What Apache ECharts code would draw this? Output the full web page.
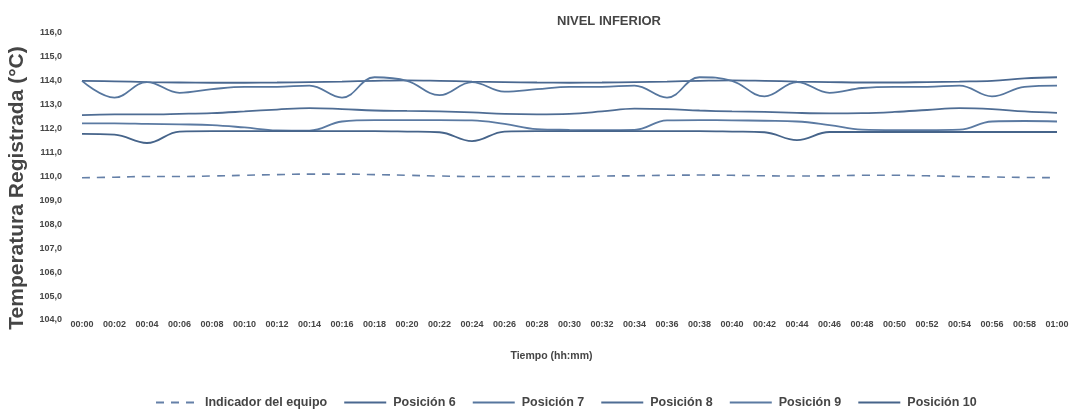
<!DOCTYPE html>
<html>
<head>
<meta charset="utf-8">
<script src="https://cdn.jsdelivr.net/npm/echarts@6/dist/echarts.min.js"></script>
<style>
html,body{margin:0;padding:0;background:#ffffff;}
#chart{width:1074px;height:410px;}
</style>
</head>
<body>
<div id="chart"></div>
<script>
const timeLabels = ["00:00","00:02","00:04","00:06","00:08","00:10","00:12","00:14","00:16","00:18","00:20","00:22","00:24","00:26","00:28","00:30","00:32","00:34","00:36","00:38","00:40","00:42","00:44","00:46","00:48","00:50","00:52","00:54","00:56","00:58","01:00"];

const seriesNames = ["Indicador del equipo","Posición 6","Posición 7","Posición 8","Posición 9","Posición 10"];

const indicador = [109.95,109.97,110.0,110.0,110.02,110.05,110.08,110.1,110.1,110.08,110.05,110.02,110.0,110.0,110.0,110.0,110.02,110.03,110.05,110.06,110.05,110.03,110.02,110.03,110.05,110.05,110.03,110.0,109.98,109.96,109.95];

const posicion6 = [114.0,113.98,113.95,113.93,113.92,113.92,113.93,113.95,113.97,114.0,114.02,114.0,113.97,113.95,113.93,113.92,113.93,113.95,113.97,114.0,114.02,114.0,113.97,113.95,113.93,113.93,113.95,113.97,114.0,114.1,114.15];

const posicion7 = [114.0,113.3,113.95,113.5,113.65,113.75,113.75,113.8,113.3,114.15,114.0,113.4,113.95,113.55,113.65,113.75,113.75,113.8,113.3,114.15,114.0,113.35,113.95,113.5,113.7,113.75,113.75,113.8,113.35,113.75,113.8];

const posicion8 = [112.57,112.6,112.6,112.62,112.65,112.72,112.8,112.86,112.82,112.76,112.74,112.72,112.68,112.62,112.6,112.62,112.72,112.84,112.82,112.76,112.72,112.7,112.66,112.64,112.65,112.7,112.78,112.86,112.82,112.72,112.66];

const posicion9 = [112.22,112.22,112.2,112.18,112.15,112.05,111.93,111.92,112.3,112.36,112.36,112.36,112.35,112.2,111.98,111.95,111.94,111.95,112.35,112.36,112.35,112.33,112.3,112.15,111.96,111.94,111.94,111.96,112.3,112.32,112.3];

const posicion10 = [111.78,111.75,111.4,111.88,111.9,111.9,111.9,111.9,111.9,111.9,111.88,111.85,111.48,111.88,111.9,111.9,111.9,111.9,111.9,111.9,111.88,111.85,111.52,111.86,111.86,111.86,111.86,111.86,111.86,111.86,111.86];

const colors = ["#6580a8","#4a6890","#56769e","#4f6d94","#5b7aa2","#46648a"];
const dataSets = [indicador,posicion6,posicion7,posicion8,posicion9,posicion10];

const FONT = "'Liberation Sans', Arial, sans-serif";
const TXT = "#454545";

const chart = echarts.init(document.getElementById('chart'), null, {renderer:'canvas'});

const series = dataSets.map((d, i) => ({
  name: seriesNames[i],
  type: 'line',
  data: d,
  smooth: 0.4,
  symbol: 'none',
  showSymbol: false,
  lineStyle: {
    color: colors[i],
    width: i === 0 ? 1.6 : 1.8,
    type: i === 0 ? [8, 7] : 'solid'
  },
  itemStyle: { color: colors[i] },
  emphasis: { disabled: true },
  z: i === 0 ? 2 : 3
}));

chart.setOption({
  animation: false,
  backgroundColor: '#ffffff',
  title: {
    text: 'NIVEL INFERIOR',
    left: 552,
    top: 10,
    textStyle: { fontFamily: FONT, fontWeight: 'bold', fontSize: 13, color: TXT }
  },
  grid: { left: 82, right: 17, top: 33, bottom: 90, containLabel: false },
  legend: {
    data: seriesNames,
    left: 150,
    top: 391,
    itemWidth: 42,
    itemHeight: 10,
    itemGap: 16,
    itemStyle: { opacity: 0 },
    textStyle: { fontFamily: FONT, fontWeight: 'bold', fontSize: 12.5, color: TXT, padding: [0,0,0,2] }
  },
  xAxis: {
    type: 'category',
    data: timeLabels,
    boundaryGap: false,
    name: 'Tiempo (hh:mm)',
    nameLocation: 'middle',
    nameGap: 31,
    nameTextStyle: { fontFamily: FONT, fontWeight: 'bold', fontSize: 10.5, color: TXT, padding: [0, 36, 0, 0] },
    axisLine: { show: false },
    axisTick: { show: false },
    splitLine: { show: false },
    axisLabel: { interval: 0, margin: 0, fontFamily: FONT, fontWeight: 'bold', fontSize: 9, color: TXT }
  },
  yAxis: {
    type: 'value',
    min: 104,
    max: 116,
    interval: 1,
    axisLine: { show: false },
    axisTick: { show: false },
    splitLine: { show: false },
    axisLabel: {
      margin: 20,
      fontFamily: FONT, fontWeight: 'bold', fontSize: 9, color: TXT,
      formatter: v => v.toFixed(1).replace('.', ',')
    }
  },
  graphic: [{
    type: 'text',
    x: 17,
    y: 188,
    rotation: Math.PI / 2,
    style: {
      text: 'Temperatura Registrada (°C)',
      font: "bold 21px 'Liberation Sans', Arial, sans-serif",
      fill: TXT,
      align: 'center',
      verticalAlign: 'middle'
    }
  }],
  series: series
});
</script>
</body>
</html>
